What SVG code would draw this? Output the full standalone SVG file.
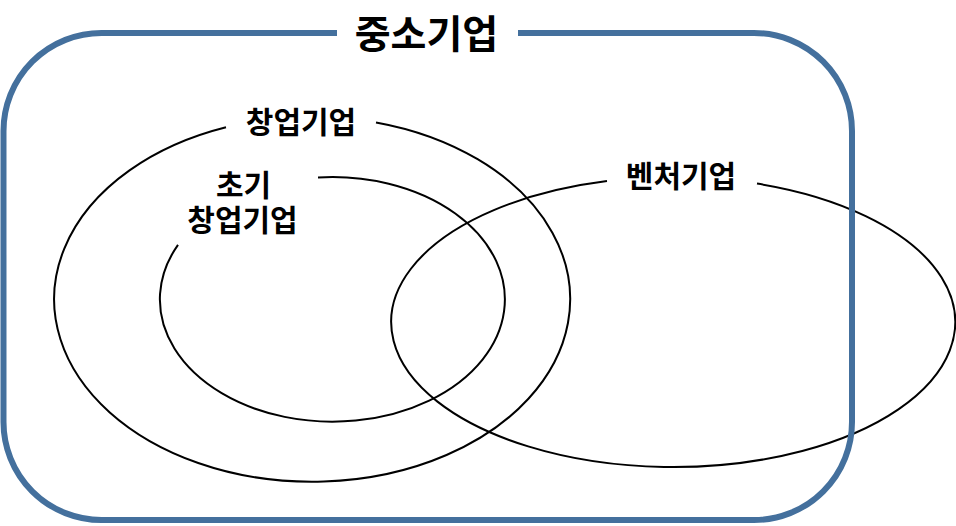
<svg xmlns="http://www.w3.org/2000/svg" width="956" height="526" viewBox="0 0 956 526">
<style>
.ell{fill:none;stroke:#000;stroke-width:2}
.frame{fill:none;stroke:#44709D;stroke-width:6}
.lbl{font-family:"Noto Sans CJK KR","Malgun Gothic",sans-serif;font-weight:bold;fill:#000;text-anchor:middle}
.s{font-size:30px}
</style>
<rect width="956" height="526" fill="#fff"/>
<g id="startup">
<path class="ell" d="M376,122.4 A258,182.5 0 1,1 226,127.2"/>
<text class="lbl s" x="301" y="133">창업기업</text>
</g>
<g id="early-startup">
<path class="ell" d="M318,177.5 A172.5,122.3 0 1,1 178,244.8"/>
<text class="lbl s"><tspan x="243.5" y="196">초기</tspan><tspan x="242.5" y="231">창업기업</tspan></text>
</g>
<g id="venture">
<path class="ell" d="M757,183.6 A282,145 0 1,1 607,181.1"/>
<text class="lbl s" x="681" y="187">벤처기업</text>
</g>
<g id="sme">
<path class="frame" d="M518,33 H754 A98,98 0 0 1 852,131 V422 A98,98 0 0 1 754,520 H101.5 A98,98 0 0 1 3.5,422 V131 A98,98 0 0 1 101.5,33 H337"/>
<text class="lbl" x="426.5" y="48" font-size="39">중소기업</text>
</g>
</svg>
